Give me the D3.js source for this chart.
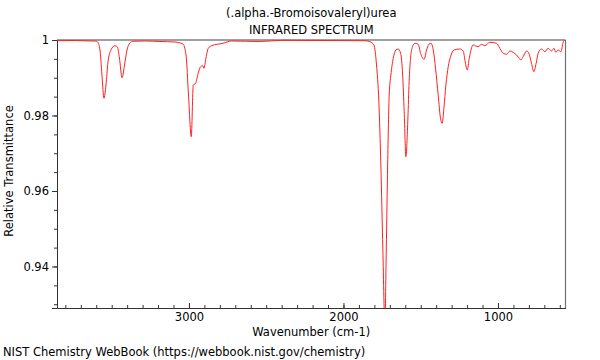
<!DOCTYPE html>
<html>
<head>
<meta charset="utf-8">
<script src="https://cdn.jsdelivr.net/npm/d3@7"></script>
<style>
  html, body { margin: 0; padding: 0; background: #fff; }
  svg { display: block; font-family: "DejaVu Sans", sans-serif; }
</style>
</head>
<body>
<svg id="chart" width="600" height="360"></svg>
<script>
const title = "(.alpha.-Bromoisovaleryl)urea";
const subtitle = "INFRARED SPECTRUM";
const xLabel = "Wavenumber (cm-1)";
const yLabel = "Relative Transmittance";
const credit = "NIST Chemistry WebBook (https://webbook.nist.gov/chemistry)";

const xDomain = [3854, 563];
const yDomain = [0.929, 1.0];
const xTickValues = [3000, 2000, 1000];
const yTickValues = [0.94, 0.96, 0.98, 1];
const yTickLabels = ["0.94", "0.96", "0.98", "1"];

const wavenumber = [3851, 3738, 3641, 3608, 3591, 3576, 3563, 3550, 3537, 3524, 3505, 3479, 3463, 3450, 3433, 3417, 3401, 3382, 3362, 3285, 3188, 3091, 3039, 3019, 3003, 2985, 2972, 2957, 2940, 2924, 2911, 2903, 2890, 2875, 2853, 2780, 2724, 2541, 2392, 2152, 1861, 1829, 1803, 1786, 1771, 1758, 1745, 1732, 1723, 1714, 1704, 1693, 1678, 1661, 1646, 1630, 1617, 1607, 1596, 1583, 1575, 1566, 1553, 1538, 1516, 1501, 1478, 1462, 1447, 1434, 1419, 1404, 1387, 1372, 1361, 1350, 1337, 1322, 1307, 1285, 1247, 1225, 1212, 1199, 1186, 1161, 1128, 1106, 1085, 1053, 1009, 988, 966, 944, 923, 902, 880, 865, 852, 837, 815, 800, 783, 768, 753, 740, 718, 697, 675, 653, 638, 625, 611, 593, 578, 567];
const transmittance = [0.99981, 0.99987, 0.99974, 0.99974, 0.99947, 0.99735, 0.99073, 0.98456, 0.98808, 0.99417, 0.99735, 0.99849, 0.99815, 0.99523, 0.99001, 0.99338, 0.99735, 0.99921, 0.99966, 0.99974, 0.9996, 0.99947, 0.99894, 0.99603, 0.98543, 0.97438, 0.98808, 0.98853, 0.99126, 0.99293, 0.99319, 0.9925, 0.99523, 0.9978, 0.99849, 0.99913, 0.99974, 0.9996, 0.99992, 0.99987, 0.99981, 0.99955, 0.99868, 0.99338, 0.98366, 0.96689, 0.94437, 0.9245, 0.94437, 0.96689, 0.98543, 0.99073, 0.99515, 0.99735, 0.99762, 0.99648, 0.99073, 0.98101, 0.96909, 0.97934, 0.98895, 0.99515, 0.99823, 0.99913, 0.99886, 0.99648, 0.99489, 0.99735, 0.99886, 0.99913, 0.99735, 0.9925, 0.98543, 0.97926, 0.97793, 0.98191, 0.98808, 0.99293, 0.99558, 0.99735, 0.99762, 0.99709, 0.99417, 0.99205, 0.99515, 0.99868, 0.99823, 0.99886, 0.99849, 0.99939, 0.99913, 0.9978, 0.99648, 0.99621, 0.99709, 0.99674, 0.99603, 0.99531, 0.9947, 0.99558, 0.99709, 0.99648, 0.99383, 0.9916, 0.99383, 0.99648, 0.99762, 0.9969, 0.9978, 0.99709, 0.9978, 0.99674, 0.99735, 0.9969, 0.99939, 1.0];

const FS = 11.5;
const svg = d3.select("#chart");
const mLeft = 57, mRight = 565.5, mTop = 40, mBottom = 308;

const x = d3.scaleLinear().domain(xDomain).range([mLeft, mRight]);
const y = d3.scaleLinear().domain(yDomain).range([mBottom, mTop]);

svg.append("defs").append("clipPath").attr("id", "plotclip")
  .append("rect").attr("x", mLeft).attr("y", mTop - 1).attr("width", mRight - mLeft).attr("height", mBottom - mTop + 1);

// frame top/right
svg.append("line").attr("x1", mLeft).attr("x2", mRight).attr("y1", mTop).attr("y2", mTop)
  .attr("stroke", "#a0a0a0").attr("stroke-width", 2);
svg.append("line").attr("x1", mRight).attr("x2", mRight).attr("y1", mTop).attr("y2", mBottom)
  .attr("stroke", "#707070").attr("stroke-width", 1.2);

// x axis
const xMinor = d3.range(600, 3851, 100);
const gxm = svg.append("g").attr("transform", `translate(0,${mBottom})`)
  .call(d3.axisTop(x).tickValues(xMinor).tickSize(3).tickFormat(""));
gxm.select(".domain").remove();
const gx = svg.append("g").attr("transform", `translate(0,${mBottom})`)
  .call(d3.axisBottom(x).tickValues(xTickValues).tickSize(0).tickPadding(5).tickFormat(d3.format("d")));
gx.select(".domain").attr("stroke", "#333");
gx.selectAll("text").attr("font-size", FS).attr("fill", "#000").attr("font-family", "DejaVu Sans, sans-serif");
svg.append("g").attr("transform", `translate(0,${mBottom})`)
  .call(d3.axisTop(x).tickValues(xTickValues).tickSize(5).tickFormat(""))
  .select(".domain").remove();

// y axis
const yMinor = d3.range(0.93, 1.0001, 0.005);
const gym = svg.append("g").attr("transform", `translate(${mLeft},0)`)
  .call(d3.axisLeft(y).tickValues(yMinor).tickSize(3).tickFormat(""));
gym.select(".domain").remove();
const gy = svg.append("g").attr("transform", `translate(${mLeft},0)`)
  .call(d3.axisLeft(y).tickValues(yTickValues).tickSize(5).tickPadding(3)
    .tickFormat((d, i) => yTickLabels[i]));
gy.select(".domain").attr("stroke", "#333");
gy.selectAll("text").attr("font-size", FS).attr("fill", "#000").attr("font-family", "DejaVu Sans, sans-serif");
svg.selectAll(".tick line").attr("stroke", "#333");

// spectrum
const data = wavenumber.map((w, i) => ({ w, t: transmittance[i] }));
const line = d3.line().x(d => x(d.w)).y(d => y(d.t)).curve(d3.curveMonotoneX);
svg.append("path").datum(data)
  .attr("clip-path", "url(#plotclip)")
  .attr("fill", "none").attr("stroke", "#ff2020").attr("stroke-width", 1)
  .attr("d", line);

// texts
const cx = (mLeft + mRight) / 2;
svg.append("text").attr("x", cx).attr("y", 17).attr("text-anchor", "middle")
  .attr("font-size", FS).text(title);
svg.append("text").attr("x", cx).attr("y", 34).attr("text-anchor", "middle")
  .attr("font-size", FS).text(subtitle);
svg.append("text").attr("x", cx).attr("y", 336).attr("text-anchor", "middle")
  .attr("font-size", FS).text(xLabel);
svg.append("text").attr("transform", `translate(13,${(mTop + mBottom) / 2 - 3}) rotate(-90)`)
  .attr("text-anchor", "middle").attr("font-size", FS).text(yLabel);
svg.append("text").attr("x", 3).attr("y", 356).attr("font-size", FS).text(credit);
</script>
</body>
</html>
